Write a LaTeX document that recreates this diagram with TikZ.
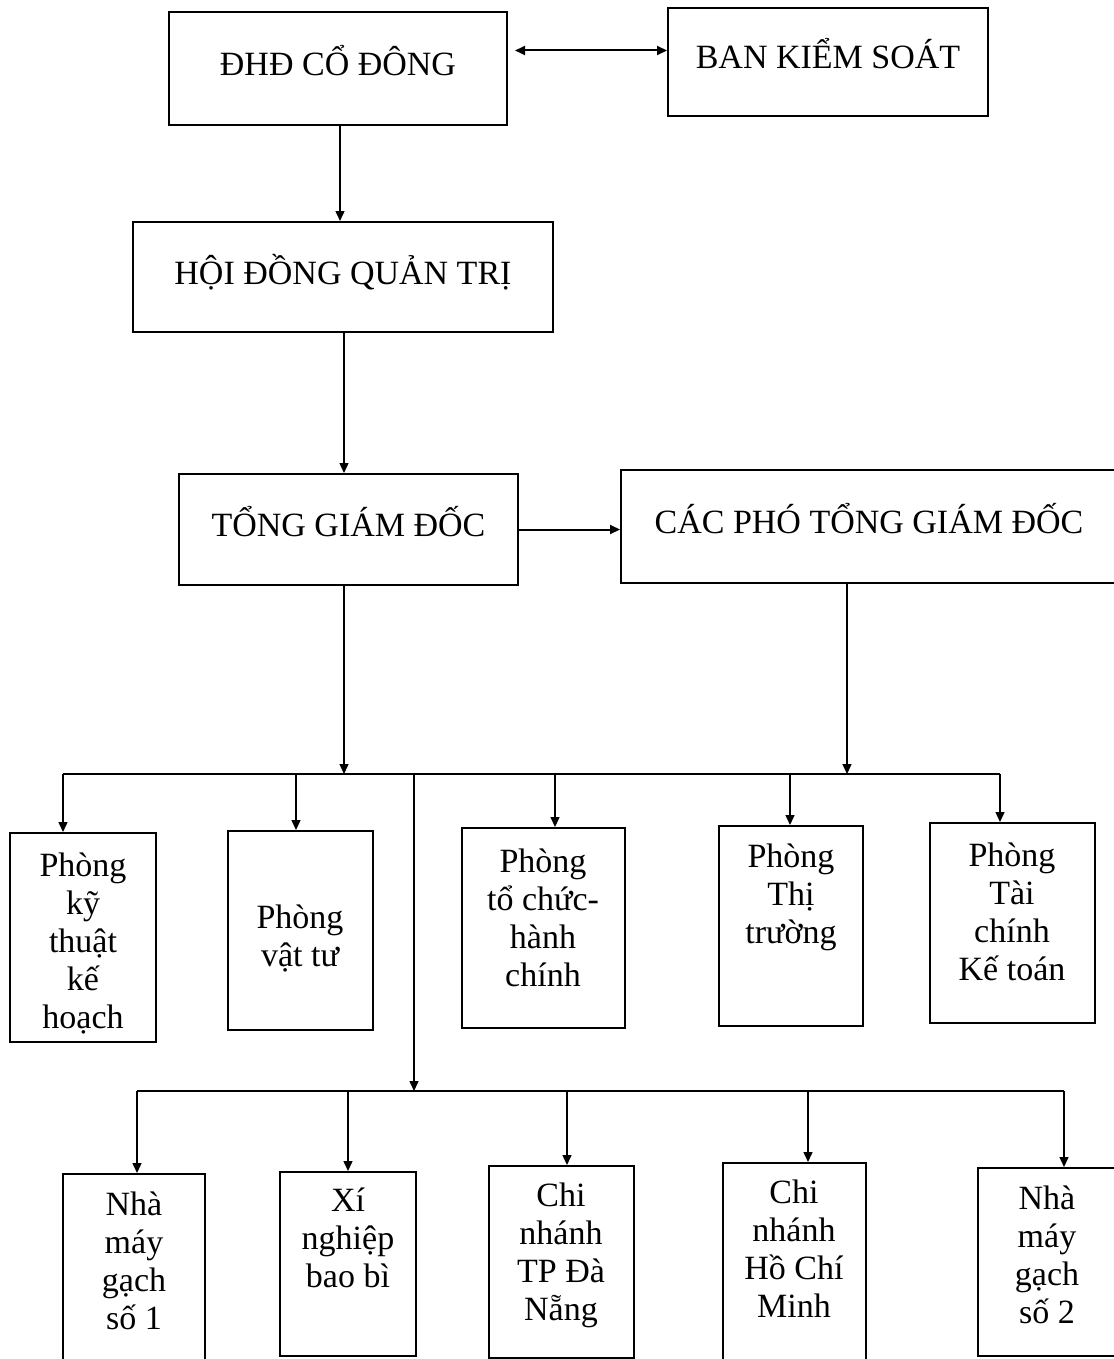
\documentclass[tikz,border=0pt]{standalone}
\usepackage{fontspec}
\setmainfont{Liberation Serif}
\usetikzlibrary{arrows.meta}

\tikzset{
  box/.style={draw, line width=1pt, inner sep=0pt, align=center},
  head/.style={box, text height=12pt, text depth=5pt},
  txt/.style={inner sep=0pt, align=center},
  conn/.style={line width=0.7pt, -{Triangle[length=5pt,width=4.5pt]}},
  wire/.style={line width=0.7pt}
}

\begin{document}
\begin{tikzpicture}[x=0.5pt, y=-0.5pt, font=\fontsize{17}{19}\selectfont]
\useasboundingbox (0,0) rectangle (1113,1359);

% top of the chart
\node[head, minimum width=169pt, minimum height=56.5pt] (dhd) at (338,68.5) {ĐHĐ CỔ ĐÔNG};
\node[head, minimum width=160pt, minimum height=54pt] (bks) at (828,62) {BAN KIỂM SOÁT};
\node[head, minimum width=210pt, minimum height=55pt] (hdqt) at (343,277) {HỘI ĐỒNG QUẢN TRỊ};
\node[head, minimum width=169.5pt, minimum height=55.5pt] (tgd) at (348.5,529.5) {TỔNG GIÁM ĐỐC};
\node[head, minimum width=248pt, minimum height=56.5pt] (cpt) at (869,526.5) {CÁC PHÓ TỔNG GIÁM ĐỐC};

\draw[line width=1pt, {Triangle[length=5pt,width=4.5pt]}-{Triangle[length=5pt,width=4.5pt]}]
  ([yshift=9pt]dhd.east) ++(7,0) coordinate (dk) -- (dk -| bks.west);
\draw[conn] (dhd.south -| 340,0) -- (hdqt.north -| 340,0);
\draw[conn] (hdqt.south -| 344,0) -- (tgd.north -| 344,0);
\draw[conn, line width=1pt] (tgd.east) -- (tgd.east -| cpt.west);

% first row of offices
\node[box, minimum width=73pt, minimum height=104.5pt] (pkt) at (83,937.5) {};
\node[box, minimum width=72.5pt, minimum height=99.5pt] (pvt) at (300.5,930.5) {};
\node[box, minimum width=81.5pt, minimum height=100pt] (ptc) at (543.5,928) {};
\node[box, minimum width=72pt, minimum height=100pt] (ptt) at (791,926) {};
\node[box, minimum width=82.5pt, minimum height=100pt] (ptk) at (1012.5,923) {};

\node[txt] (pkt-t) at (83,943) {Phòng\\kỹ\\thuật\\kế\\hoạch};
\node[txt] (pvt-t) at (300,938) {Phòng\\vật tư};
\node[txt] (ptc-t) at (543,918) {Phòng\\tổ chức-\\hành\\chính};
\node[txt] (ptt-t) at (791,897) {Phòng\\Thị\\trường};
\node[txt] (ptk-t) at (1012,912) {Phòng\\Tài\\chính\\Kế toán};

% upper bus
\coordinate (b1) at (344,774);
\coordinate (b2) at (847,774);
\coordinate (b3) at (414,774);
\draw[wire] (63,774) -- (1000,774);
\draw[conn] (tgd.south -| b1) -- (b1);
\draw[conn] (cpt.south -| b2) -- (b2);
\foreach \x/\n in {63/pkt, 296/pvt, 555/ptc, 790/ptt, 1000/ptk}
  \draw[conn] (\x,774) -- (\n.north -| \x,774);

% second row of units
\node[box, minimum width=71pt, minimum height=100pt] (nm1) at (134,1274) {};
\node[box, minimum width=68pt, minimum height=92pt] (xn) at (348,1264) {};
\node[box, minimum width=72.5pt, minimum height=96pt] (cnd) at (561.5,1262) {};
\node[box, minimum width=71.5pt, minimum height=104pt] (cnh) at (794.5,1267) {};
\node[box, minimum width=71pt, minimum height=94pt] (nm2) at (1049,1262) {};

\node[txt] (nm1-t) at (134,1261) {Nhà\\máy\\gạch\\số 1};
\node[txt] (xn-t) at (348,1238) {Xí\\nghiệp\\bao bì};
\node[txt] (cnd-t) at (561,1255) {Chi\\nhánh\\TP Đà\\Nẵng};
\node[txt] (cnh-t) at (794,1249) {Chi\\nhánh\\Hồ Chí\\Minh};
\node[txt] (nm2-t) at (1047,1255) {Nhà\\máy\\gạch\\số 2};

% lower bus
\coordinate (b4) at (414,1091);
\draw[conn] (b3) -- (b4);
\draw[wire] (137,1091) -- (1064,1091);
\foreach \x/\n in {137/nm1, 348/xn, 567/cnd, 808/cnh, 1064/nm2}
  \draw[conn] (\x,1091) -- (\n.north -| \x,1091);

\end{tikzpicture}
\end{document}
